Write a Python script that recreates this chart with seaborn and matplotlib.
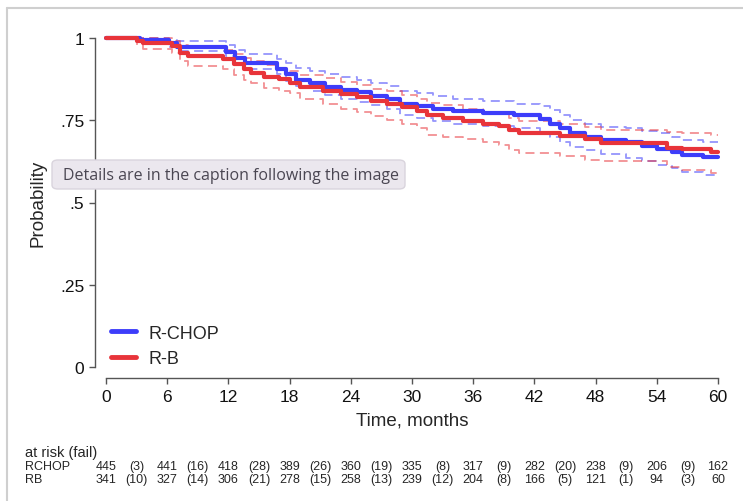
import pandas as pd
import seaborn as sns
import matplotlib.pyplot as plt
from matplotlib.lines import Line2D
from matplotlib.patches import FancyBboxPatch

# ——— Kaplan-Meier estimates read off the figure ———
rchop_t = [0, 3.3, 6.2, 7.0, 11.8, 12.6, 13.6, 16.8, 17.6, 18.6, 20.0, 21.5, 23.0, 24.6, 26.0, 27.5, 28.8,
           30.5, 32.1, 34.0, 37.0, 40.0, 42.5, 43.5, 44.5, 45.5, 47.0, 48.5, 51.0, 52.5, 54.0, 55.5, 56.5, 58.5, 60]
rchop_s = [1.0, 0.995, 0.985, 0.974, 0.958, 0.94, 0.925, 0.905, 0.89, 0.872, 0.862, 0.852, 0.843, 0.835, 0.825,
           0.815, 0.80, 0.792, 0.785, 0.777, 0.771, 0.765, 0.755, 0.74, 0.725, 0.71, 0.70, 0.69, 0.684, 0.672,
           0.663, 0.652, 0.643, 0.637, 0.637]
rchop_hi = [1.0, 1.0, 0.995, 0.99, 0.98, 0.965, 0.952, 0.935, 0.925, 0.91, 0.90, 0.89, 0.882, 0.872, 0.862,
            0.853, 0.84, 0.832, 0.825, 0.815, 0.808, 0.80, 0.793, 0.78, 0.765, 0.75, 0.74, 0.73, 0.725, 0.718,
            0.71, 0.70, 0.69, 0.684, 0.684]
rchop_lo = [1.0, 0.985, 0.972, 0.962, 0.945, 0.92, 0.905, 0.89, 0.87, 0.855, 0.838, 0.828, 0.815, 0.805, 0.795,
            0.784, 0.765, 0.757, 0.748, 0.738, 0.732, 0.725, 0.715, 0.70, 0.685, 0.67, 0.66, 0.648, 0.635, 0.625,
            0.615, 0.604, 0.594, 0.585, 0.585]

rb_t = [0, 3.0, 3.6, 6.5, 7.3, 8.0, 11.5, 12.5, 13.5, 14.2, 15.5, 17.0, 18.0, 19.0, 21.3, 23.0, 24.6, 26.0,
        27.5, 29.0, 30.5, 31.5, 33.0, 35.0, 37.0, 38.5, 39.5, 40.5, 44.5, 47.0, 48.5, 55.0, 56.5, 59.3, 60]
rb_s = [1.0, 0.99, 0.984, 0.975, 0.955, 0.945, 0.935, 0.92, 0.905, 0.895, 0.882, 0.876, 0.862, 0.85, 0.84,
        0.83, 0.82, 0.81, 0.80, 0.79, 0.778, 0.765, 0.756, 0.748, 0.74, 0.732, 0.72, 0.71, 0.703, 0.693, 0.68,
        0.667, 0.663, 0.652, 0.652]
rb_hi = [1.0, 1.0, 1.0, 0.99, 0.978, 0.97, 0.963, 0.95, 0.938, 0.93, 0.918, 0.91, 0.90, 0.888, 0.878, 0.866,
         0.856, 0.846, 0.838, 0.826, 0.815, 0.803, 0.795, 0.785, 0.775, 0.768, 0.756, 0.748, 0.738, 0.728, 0.72,
         0.715, 0.712, 0.705, 0.705]
rb_lo = [1.0, 0.98, 0.968, 0.955, 0.93, 0.915, 0.905, 0.887, 0.872, 0.863, 0.848, 0.84, 0.832, 0.815, 0.80,
         0.785, 0.775, 0.762, 0.752, 0.738, 0.725, 0.706, 0.70, 0.692, 0.685, 0.675, 0.66, 0.65, 0.64, 0.63,
         0.625, 0.608, 0.60, 0.59, 0.59]

# ——— risk table ———
risk_months = [0, 6, 12, 18, 24, 30, 36, 42, 48, 54, 60]
rchop_risk = [445, 441, 418, 389, 360, 335, 317, 282, 238, 206, 162]
rchop_fail = [3, 16, 28, 26, 19, 8, 9, 20, 9, 9]
rb_risk = [341, 327, 306, 278, 258, 239, 204, 166, 121, 94, 60]
rb_fail = [10, 14, 21, 15, 13, 12, 8, 5, 1, 3]

df = pd.concat([
    pd.DataFrame({'arm': 'R-CHOP', 't': rchop_t, 'surv': rchop_s, 'hi': rchop_hi, 'lo': rchop_lo}),
    pd.DataFrame({'arm': 'R-B', 't': rb_t, 'surv': rb_s, 'hi': rb_hi, 'lo': rb_lo}),
])
colors = {'R-CHOP': '#3d3dfa', 'R-B': '#e8343a'}

sns.set_style("white")
plt.rcParams['font.family'] = ['Liberation Sans', 'DejaVu Sans']

W, H = 743, 502
fig = plt.figure(figsize=(W / 100, H / 100), dpi=100)
ax = fig.add_axes([106 / W, 1 - 368 / H, 612 / W, 329 / H])

for col in ['hi', 'lo']:
    sns.lineplot(data=df, x='t', y=col, hue='arm', palette=colors, estimator=None, drawstyle='steps-post',
                 linestyle=(0, (5, 3)), linewidth=1.3, alpha=0.55, legend=False, ax=ax, clip_on=False)
sns.lineplot(data=df, x='t', y='surv', hue='arm', palette=colors, estimator=None, drawstyle='steps-post',
             linewidth=3.0, legend=False, ax=ax, clip_on=False)

ax.set_xlim(0, 60)
ax.set_ylim(0, 1)
ax.set_xticks(risk_months)
ax.set_yticks([0, 0.25, 0.5, 0.75, 1])
ax.set_yticklabels(['0', '.25', '.5', '.75', '1'])
for s in ['top', 'right']:
    ax.spines[s].set_visible(False)
for s in ['left', 'bottom']:
    ax.spines[s].set_position(('outward', 8))
    ax.spines[s].set_color('#555555')
    ax.spines[s].set_linewidth(1.0)
ax.spines['left'].set_bounds(0, 1)
ax.spines['bottom'].set_bounds(0, 60)
ax.tick_params(bottom=True, left=True, direction='out', length=4.5, width=1.0, color='#555555',
               labelsize=12.5, labelcolor='#111111', pad=3)
ax.set_xlabel('Time, months', fontsize=13.5, labelpad=6)
ax.set_ylabel('Probability', fontsize=13.5, labelpad=10)

handles = [Line2D([], [], color=colors[k], linewidth=3.5) for k in ['R-CHOP', 'R-B']]
ax.legend(handles, ['R-CHOP', 'R-B'], loc='lower left', bbox_to_anchor=(-0.012, -0.038), frameon=False,
          fontsize=13, handlelength=1.35, handletextpad=0.7, labelspacing=0.45, borderaxespad=0.3)

# ——— number at risk (fail) below the plot ———
tf = ax.get_xaxis_transform()
narrow = ['Liberation Sans Narrow', 'Liberation Sans', 'DejaVu Sans']
fig.text(25 / W, 1 - 453 / H, 'at risk (fail)', fontsize=10.5, va='center', family=narrow)
for row_y, name, risk, fail in [(467, 'RCHOP', rchop_risk, rchop_fail), (480, 'RB', rb_risk, rb_fail)]:
    fig.text(25 / W, 1 - row_y / H, name, fontsize=9, va='center', family=narrow)
    yy = -(row_y - 368) / 329
    for m, n in zip(risk_months, risk):
        ax.text(m, yy, str(n), transform=tf, fontsize=9, ha='center', va='center', family=narrow)
    for i, f in enumerate(fail):
        ax.text(risk_months[i] + 3, yy, f'({f})', transform=tf, fontsize=9, ha='center', va='center',
                family=narrow)

# ——— tooltip overlay and outer frame seen in the reference ———
fig.add_artist(FancyBboxPatch((52 / W, 1 - 190 / H), 353 / W, 29 / H,
                              boxstyle='round,pad=0,rounding_size=0.008', transform=fig.transFigure,
                              facecolor='#ebe7ee', edgecolor='#d9d4dd', linewidth=1.0))
fig.text(63 / W, 1 - 175.5 / H, 'Details are in the caption following the image', fontsize=11.5,
         color='#4a4652', va='center', family=['Open Sans', 'DejaVu Sans'])
fig.add_artist(Line2D([7 / W, 1], [1 - 8.5 / H, 1 - 8.5 / H], transform=fig.transFigure, color='#cfcfcf', lw=1.5))
fig.add_artist(Line2D([7 / W, 7 / W], [0, 1 - 8.5 / H], transform=fig.transFigure, color='#cfcfcf', lw=1.5))

fig.savefig('out.png', dpi=100)
